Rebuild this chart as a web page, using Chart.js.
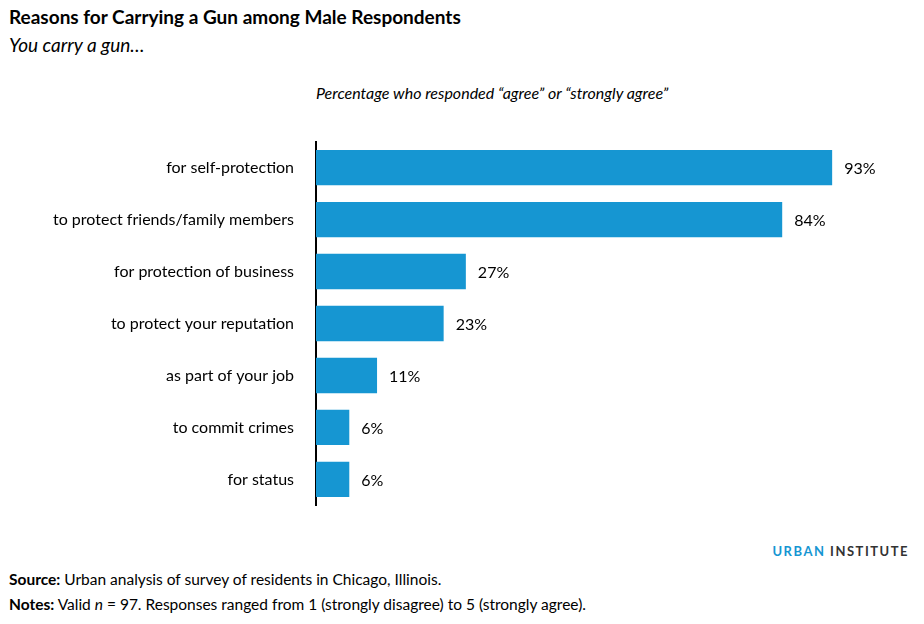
<!DOCTYPE html>
<html>
<head>
<meta charset="utf-8">
<script src="https://cdn.jsdelivr.net/npm/chart.js@4"></script>
<style>
body { margin: 0; width: 924px; height: 624px; position: relative; font-family: Lato, sans-serif; background: #fff; color: #000; overflow: hidden; }
.t { position: absolute; white-space: nowrap; }
#chart { position: absolute; left: 0; top: 118px; }
</style>
</head>
<body>
<div class="t" style="left:9px;top:5px;font-size:19px;font-weight:bold;">Reasons for Carrying a Gun among Male Respondents</div>
<div class="t" style="left:9px;top:33px;font-size:19px;font-style:italic;">You carry a gun…</div>
<div class="t" style="left:316px;top:83px;font-size:16px;font-style:italic;">Percentage who responded “agree” or “strongly agree”</div>
<canvas id="chart" width="924" height="411"></canvas>
<div class="t" style="right:15px;top:543px;font-size:13px;font-weight:bold;letter-spacing:1.5px;"><span style="color:#1696d2">URBAN</span> <span style="color:#333">INSTITUTE</span></div>
<div class="t" style="left:9px;top:570px;font-size:15.5px;"><b>Source:</b> Urban analysis of survey of residents in Chicago, Illinois.</div>
<div class="t" style="left:9px;top:595px;font-size:15.5px;"><b>Notes:</b> Valid <i>n</i> = 97. Responses ranged from 1 (strongly disagree) to 5 (strongly agree).</div>
<script>
const reasons = ['for self-protection', 'to protect friends/family members', 'for protection of business', 'to protect your reputation', 'as part of your job', 'to commit crimes', 'for status'];
const percents = [93, 84, 27, 23, 11, 6, 6];

const valueLabels = {
    id: 'valueLabels',
    afterDatasetsDraw(chart) {
        const ctx = chart.ctx;
        ctx.save();
        ctx.font = '16px Lato';
        ctx.fillStyle = '#000';
        ctx.textBaseline = 'middle';
        chart.getDatasetMeta(0).data.forEach((bar, i) => {
            ctx.fillText(percents[i] + '%', bar.x + 12, bar.y + 1);
        });
        ctx.restore();
    }
};

new Chart(document.getElementById('chart').getContext('2d'), {
    type: 'bar',
    data: {
        labels: reasons,
        datasets: [{ data: percents, backgroundColor: '#1696d2', barPercentage: 0.68, categoryPercentage: 1 }]
    },
    options: {
        indexAxis: 'y',
        responsive: false,
        animation: false,
        layout: { padding: { right: 53, top: 0, bottom: 0, left: 0 } },
        plugins: { legend: { display: false }, tooltip: { enabled: false } },
        scales: {
            x: { min: 0, max: 100, display: false },
            y: {
                afterFit(scale) { scale.width = 316; },
                grid: { display: false },
                border: { display: true, color: '#000', width: 2 },
                ticks: { color: '#000', font: { family: 'Lato', size: 16 }, padding: 14 }
            }
        }
    },
    plugins: [valueLabels]
});
</script>
</body>
</html>
